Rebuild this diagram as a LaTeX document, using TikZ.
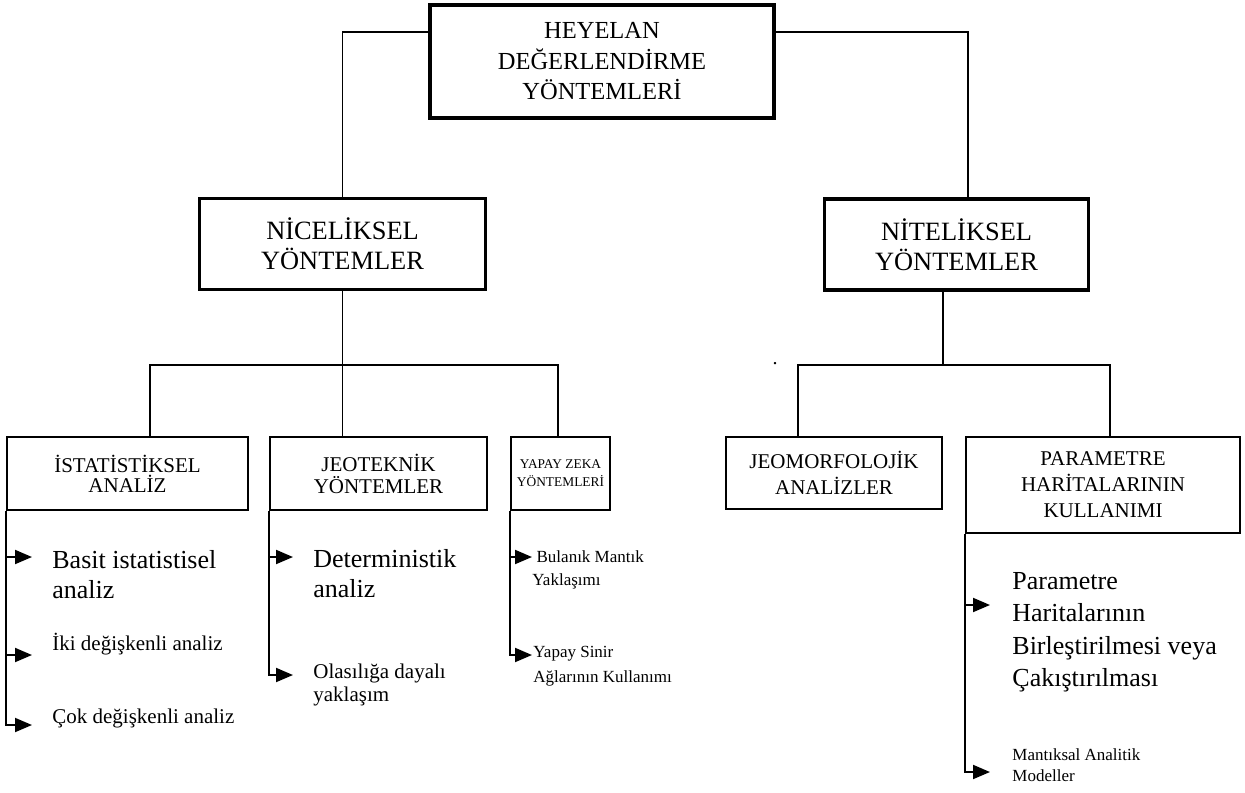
\documentclass[tikz,border=0pt]{standalone}
\usepackage{fontspec}
\setmainfont{Liberation Serif}
\usetikzlibrary{arrows.meta}

\begin{document}
\begin{tikzpicture}[x=0.5pt, y=-0.5pt,
    headbox/.style={draw, rectangle, line width=1.7pt, align=center, inner sep=0pt, minimum height=45.5pt, font=\fontsize{13.2}{15}\selectfont},
    subbox/.style={draw, rectangle, line width=1pt, align=center, inner sep=0pt, minimum height=36.5pt, font=\fontsize{10.5}{10}\selectfont},
    item/.style={inner sep=0pt, align=left, anchor=north west},
    link/.style={line width=0.95pt},
    arr/.style={link, -{Triangle[length=8.5pt,width=7pt]}}
]
    \useasboundingbox (0,0) rectangle (1245,792);

    \node[draw, rectangle, line width=2pt, align=center, inner sep=0pt, minimum width=172pt, minimum height=56.5pt,
          font=\fontsize{12.25}{15.25}\selectfont] (top) at (602,61.5) {HEYELAN\\DEĞERLENDİRME\\YÖNTEMLERİ};

    \node[headbox, minimum width=143pt] (nic) at (342.5,244) {NİCELİKSEL\\YÖNTEMLER};
    \node[headbox, minimum width=132pt] (nit) at (956.5,244.5) {NİTELİKSEL\\YÖNTEMLER};

    \node[subbox, minimum width=120.5pt] (ist) at (127.5,473.5) {İSTATİSTİKSEL\\ANALİZ};
    \node[subbox, minimum width=108.5pt, font=\fontsize{10.5}{11}\selectfont] (jeo) at (378.5,473.5) {JEOTEKNİK\\YÖNTEMLER};
    \node[subbox, minimum width=49.5pt, font=\fontsize{6.7}{9}\selectfont] (yz) at (560.5,473.5) {YAPAY ZEKA\\YÖNTEMLERİ};
    \node[subbox, minimum width=108pt, minimum height=36pt, font=\fontsize{10.5}{13}\selectfont] (jm) at (834,473) {JEOMORFOLOJİK\\ANALİZLER};
    \node[subbox, minimum width=137pt, minimum height=48pt, font=\fontsize{10.5}{13}\selectfont] (par) at (1103,485) {PARAMETRE\\HARİTALARININ\\KULLANIMI};

    \node[inner sep=0pt, font=\fontsize{10}{10}\selectfont] (dot) at (775,364) {.};

    \coordinate (nicbar) at (343,365);
    \coordinate (nitbar) at (943,365);

    \draw[link] ([yshift=-14.5pt]top.north west) -| (nic.north);
    \draw[link] ([yshift=-14.5pt]top.north east) -| ([xshift=5.75pt]nit.north);

    \draw[link] (nic.south) -- (nic.south |- jeo.north);
    \draw[link] ([xshift=11.25pt]ist.north) |- (nicbar) -| ([xshift=-1.25pt]yz.north);

    \draw[link] ([xshift=-6.75pt]nit.south) -- (nitbar);
    \draw[link] ([xshift=-18pt]jm.north) |- (nitbar) -| ([xshift=3.5pt]par.north);

    \coordinate (a1) at (32,557);
    \coordinate (a2) at (32,655);
    \coordinate (a3) at (32,725);
    \coordinate (b1) at (293,557);
    \coordinate (b2) at (293,675);
    \coordinate (c1) at (532,557);
    \coordinate (c2) at (532,655);
    \coordinate (d1) at (990,605);
    \coordinate (d2) at (990,772);

    \draw[arr] (ist.south west |- a1) -- (a1);
    \draw[arr] (ist.south west |- a2) -- (a2);
    \draw[arr] (ist.south west) |- (a3);
    \draw[arr] (jeo.south west |- b1) -- (b1);
    \draw[arr] (jeo.south west) |- (b2);
    \draw[arr] (yz.south west |- c1) -- (c1);
    \draw[arr] (yz.south west) |- (c2);
    \draw[arr] (par.south west |- d1) -- (d1);
    \draw[arr] (par.south west) |- (d2);

    \node[item, font=\fontsize{13}{15}\selectfont] (basit) at (52,550) {Basit istatistisel\\analiz};
    \node[item, anchor=base west, font=\fontsize{10.5}{12}\selectfont] (iki) at (52,650) {İki değişkenli analiz};
    \node[item, anchor=base west, font=\fontsize{10.5}{12}\selectfont] (cok) at (52,723) {Çok değişkenli analiz};
    \node[item, font=\fontsize{13}{15}\selectfont] (det) at (313,549) {Deterministik\\analiz};
    \node[item, font=\fontsize{10.5}{11.5}\selectfont] (olas) at (313,664) {Olasılığa dayalı\\yaklaşım};
    \node[item, font=\fontsize{8.5}{11.5}\selectfont] (bul) at (532,550) {\hspace{0.25em}Bulanık Mantık\\Yaklaşımı};
    \node[item, font=\fontsize{8.5}{12.5}\selectfont] (ysa) at (533,646) {Yapay Sinir\\Ağlarının Kullanımı};
    \node[item, font=\fontsize{13}{16.2}\selectfont] (birl) at (1012,572) {Parametre\\Haritalarının\\Birleştirilmesi veya\\Çakıştırılması};
    \node[item, font=\fontsize{8.5}{10.5}\selectfont] (mant) at (1012,748) {Mantıksal Analitik\\Modeller};
\end{tikzpicture}
\end{document}
